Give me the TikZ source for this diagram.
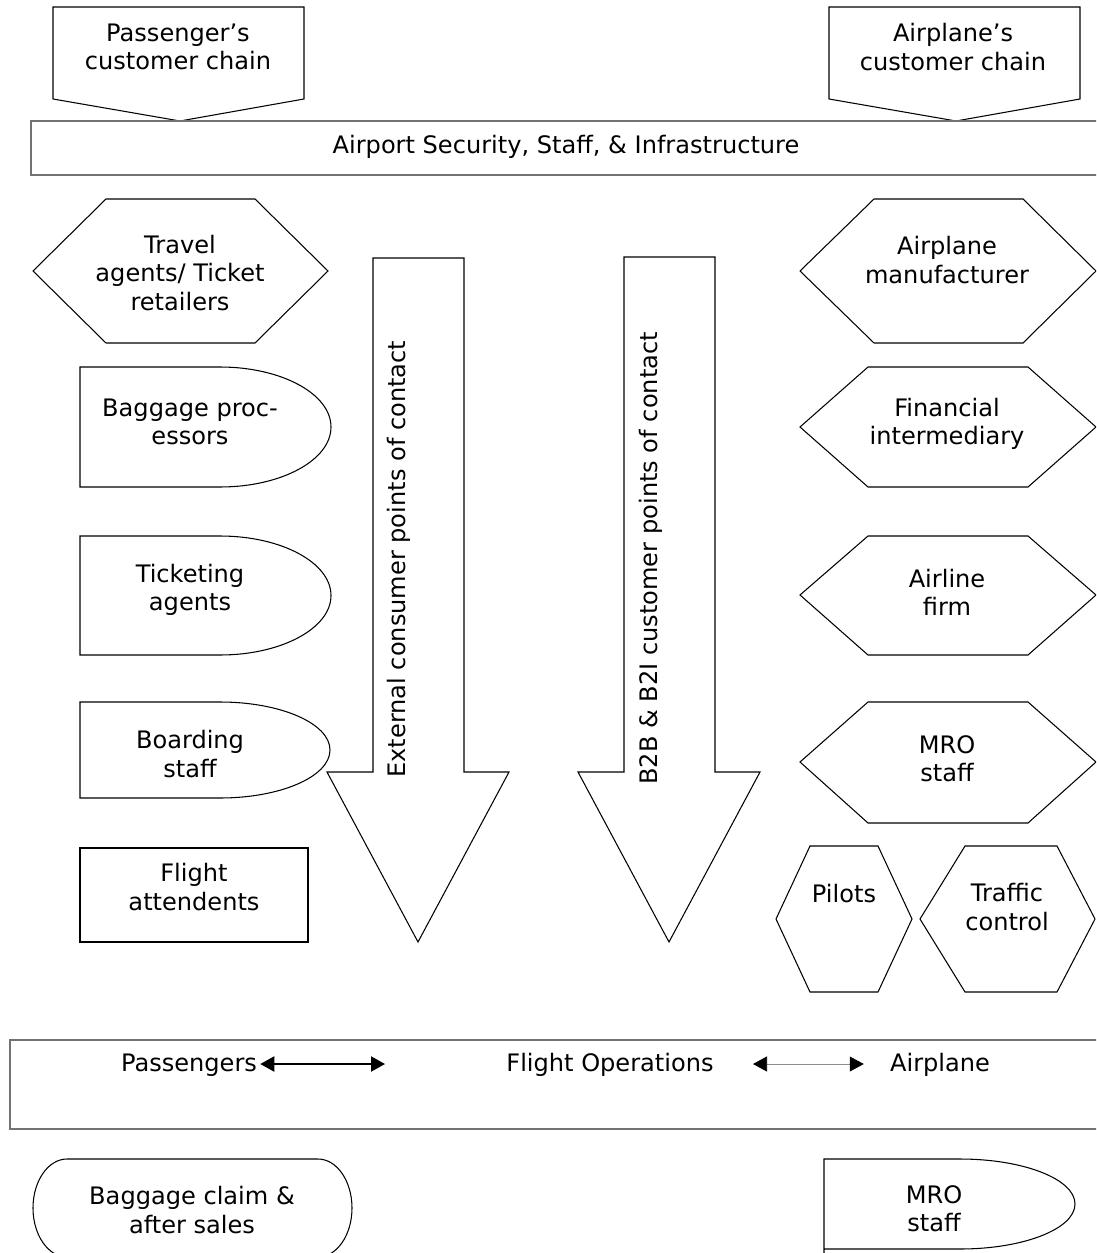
\documentclass[tikz,border=0pt]{standalone}
\usepackage{fontspec}
\setmainfont{DejaVu Sans}
\usetikzlibrary{arrows.meta}

\tikzset{
  shp/.style={draw=black, line width=0.6pt},
  barbox/.style={draw=black!55, line width=0.9pt},
  lbl/.style={align=center, inner sep=0pt},
  fatarr/.style={line width=1.2pt, {Triangle[length=0.28cm,width=0.3cm]}-{Triangle[length=0.28cm,width=0.3cm]}},
  slimarr/.style={draw=black!45, line width=0.4pt, {Triangle[length=0.28cm,width=0.3cm,color=black]}-{Triangle[length=0.28cm,width=0.3cm,color=black]}}
}

\begin{document}
\begin{tikzpicture}[x=0.02cm, y=-0.02cm, font=\fontsize{13.7}{16}\selectfont]
    \useasboundingbox (0,0) rectangle (1096,1253);
    \clip (0,0) rectangle (1096,1253);

    % catene clienti in alto
    \draw[shp] (53,7) -- (304,7) -- (304,99) -- (180,121) -- (53,99) -- cycle;
    \draw[shp] (829,7) -- (1080,7) -- (1080,99) -- (956,121) -- (829,99) -- cycle;
    \node[lbl] (paxchain) at (178,47) {Passenger’s\\customer chain};
    \node[lbl] (planechain) at (953,47) {Airplane’s\\customer chain};

    % barra aeroporto
    \draw[barbox] (31,121) rectangle (1102,175);
    \node[lbl] (airport) at (566,147) {Airport Security, Staff, \& Infrastructure};

    % frecce grandi
    \draw[shp] (373,258) -- (464,258) -- (464,772) -- (509,772) -- (418,942) -- (327,772) -- (373,772) -- cycle;
    \draw[shp] (624,257) -- (715,257) -- (715,772) -- (760,772) -- (669,942) -- (578,772) -- (624,772) -- cycle;
    \node[lbl, rotate=90, anchor=base west] (extcontact) at (405,778) {External consumer points of contact};
    \node[lbl, rotate=90, anchor=base west] (bbcontact) at (657,785) {B2B \& B2I customer points of contact};

    % lato passeggeri
    \draw[shp] (33,271) -- (106,199) -- (255,199) -- (328,271) -- (255,343) -- (106,343) -- cycle;
    \node[lbl] (travel) at (180,273) {Travel\\agents/ Ticket\\retailers};

    \draw[shp] (80,367) -- (220,367) arc[start angle=-90, end angle=90, x radius=111, y radius=60] -- (80,487) -- cycle;
    \node[lbl] (bagproc) at (190,422) {Baggage proc-\\essors};
    \draw[shp] (80,536) -- (220,536) arc[start angle=-90, end angle=90, x radius=111, y radius=59.5] -- (80,655) -- cycle;
    \node[lbl] (ticketing) at (190,590) {Ticketing\\agents};
    \draw[shp] (80,702) -- (220,702) arc[start angle=-90, end angle=90, x radius=110, y radius=48] -- (80,798) -- cycle;
    \node[lbl] (boarding) at (190,754) {Boarding\\staff};

    \draw[shp] (80,848) rectangle (308,942);
    \node[lbl] (attend) at (194,887) {Flight\\attendents};

    % lato aereo
    \draw[shp] (800,271) -- (874,199) -- (1023,199) -- (1096,271) -- (1023,343) -- (874,343) -- cycle;
    \node[lbl] (manuf) at (947,260) {Airplane\\manufacturer};
    \draw[shp] (800,427) -- (868,367) -- (1028,367) -- (1096,427) -- (1028,487) -- (868,487) -- cycle;
    \node[lbl] (finance) at (947,424) {Financial\\intermediary};
    \draw[shp] (800,595) -- (868,536) -- (1028,536) -- (1096,595) -- (1028,655) -- (868,655) -- cycle;
    \node[lbl] (airline) at (947,592) {Airline\\firm};
    \draw[shp] (800,762) -- (868,702) -- (1028,702) -- (1096,762) -- (1028,823) -- (868,823) -- cycle;
    \node[lbl] (mro) at (947,759) {MRO\\staff};

    \draw[shp] (776,919) -- (810,846) -- (878,846) -- (912,919) -- (878,992) -- (810,992) -- cycle;
    \node[lbl] (pilots) at (844,894) {Pilots};
    \draw[shp] (920,919) -- (965,846) -- (1057,846) -- (1095,919) -- (1057,992) -- (965,992) -- cycle;
    \node[lbl] (traffic) at (1007,907) {Traffic\\control};

    % barra operazioni di volo
    \draw[barbox] (10,1040) rectangle (1102,1129);
    \node[lbl, anchor=base] (pax) at (189,1071) {Passengers};
    \node[lbl, anchor=base] (flightops) at (610,1071) {Flight Operations};
    \node[lbl, anchor=base] (plane) at (940,1071) {Airplane};
    \coordinate (paxend) at (385,1064);
    \coordinate (opsend) at (753,1064);
    \draw[fatarr] (pax.east |- paxend) ++(3,0) -- (paxend);
    \draw[slimarr] (opsend) -- ([xshift=-0.52cm]plane.west |- opsend);

    % in basso
    \draw[shp] (67,1159) -- (318,1159) arc[start angle=-90, end angle=90, x radius=34, y radius=49] -- (67,1257) arc[start angle=90, end angle=270, x radius=34, y radius=49];
    \node[lbl] (claim) at (192,1210) {Baggage claim \&\\after sales};
    \draw[shp] (824,1260) -- (824,1159) -- (960,1159) arc[start angle=-90, end angle=90, x radius=115, y radius=45] -- (824,1249);
    \node[lbl] (mrolow) at (934,1209) {MRO\\staff};
\end{tikzpicture}
\end{document}
